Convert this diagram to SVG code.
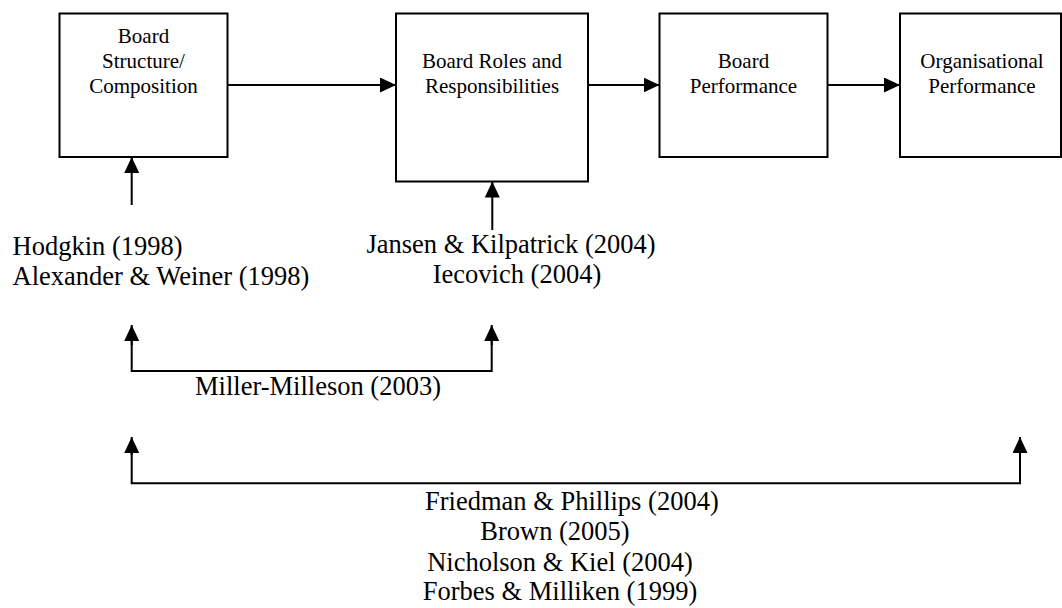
<svg xmlns="http://www.w3.org/2000/svg" width="1062" height="608" viewBox="0 0 1062 608">
<defs>
<marker id="ah" markerUnits="userSpaceOnUse" markerWidth="16" markerHeight="15" refX="16" refY="7.5" orient="auto">
<path d="M0,0 L16,7.5 L0,15 Z" fill="#000"/>
</marker>
<style>
.box{fill:#fff;stroke:#000;stroke-width:2}
.lbl{font-family:"Liberation Serif","Times New Roman",serif;font-size:21px;fill:#000;text-anchor:middle}
.ref{font-family:"Liberation Serif","Times New Roman",serif;font-size:26.5px;fill:#000}
.c{text-anchor:middle}
.con{fill:none;stroke:#000;stroke-width:2}
.arr{marker-end:url(#ah)}
</style>
</defs>
<rect width="1062" height="608" fill="#fff"/>
<g id="node-structure">
<rect class="box" x="59.5" y="13.5" width="168" height="143.5"/>
<text class="lbl" x="143.5" y="43.3">Board</text>
<text class="lbl" x="143.5" y="68">Structure/</text>
<text class="lbl" x="143.5" y="92.7">Composition</text>
</g>
<g id="node-roles">
<rect class="box" x="396" y="13.5" width="192" height="168"/>
<text class="lbl" x="492" y="68.3">Board Roles and</text>
<text class="lbl" x="492" y="92.7">Responsibilities</text>
</g>
<g id="node-board-perf">
<rect class="box" x="659.5" y="13.5" width="168" height="143.5"/>
<text class="lbl" x="743.5" y="68.3">Board</text>
<text class="lbl" x="743.5" y="92.7">Performance</text>
</g>
<g id="node-org-perf">
<rect class="box" x="900" y="13.5" width="161" height="143.5"/>
<text class="lbl" x="982" y="68.3">Organisational</text>
<text class="lbl" x="982" y="92.7">Performance</text>
</g>
<g id="connectors">
<line class="con arr" x1="227.5" y1="85" x2="396" y2="85"/>
<line class="con arr" x1="588" y1="85" x2="659.5" y2="85"/>
<line class="con arr" x1="827.5" y1="85" x2="900" y2="85"/>
<line class="con arr" x1="131.7" y1="205" x2="131.7" y2="157"/>
<line class="con arr" x1="492.3" y1="230" x2="492.3" y2="181.5"/>
<path class="con" d="M131.7,339 V371 H491.7 V339"/>
<line class="con arr" x1="131.7" y1="345" x2="131.7" y2="325"/>
<line class="con arr" x1="491.7" y1="345" x2="491.7" y2="325"/>
<path class="con" d="M131.7,450 V483.3 H1020 V450"/>
<line class="con arr" x1="131.7" y1="455" x2="131.7" y2="437"/>
<line class="con arr" x1="1020" y1="455" x2="1020" y2="437"/>
</g>
<g id="refs-structure">
<text class="ref" x="12.5" y="255">Hodgkin (1998)</text>
<text class="ref" x="12.5" y="285">Alexander &amp; Weiner (1998)</text>
</g>
<g id="refs-roles">
<text class="ref c" x="511" y="253.3">Jansen &amp; Kilpatrick (2004)</text>
<text class="ref c" x="517" y="283.3">Iecovich (2004)</text>
</g>
<g id="refs-miller">
<text class="ref c" x="318" y="395">Miller-Milleson (2003)</text>
</g>
<g id="refs-org">
<text class="ref" x="425" y="510">Friedman &amp; Phillips (2004)</text>
<text class="ref c" x="555" y="540">Brown (2005)</text>
<text class="ref c" x="560" y="571">Nicholson &amp; Kiel (2004)</text>
<text class="ref c" x="560" y="600">Forbes &amp; Milliken (1999)</text>
</g>
</svg>
